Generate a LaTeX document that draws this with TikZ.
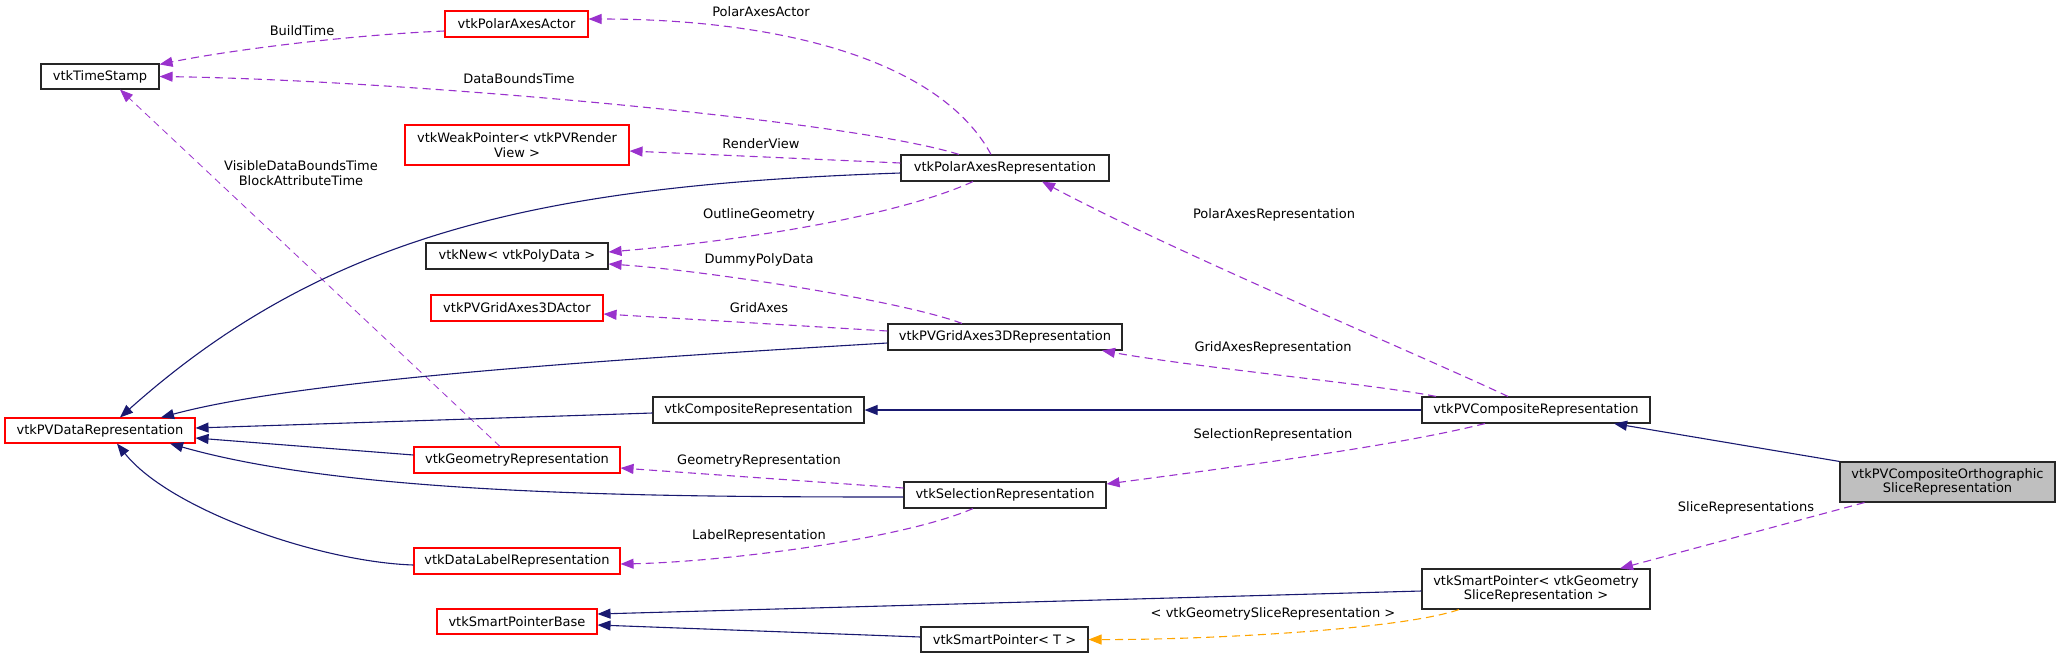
\documentclass[tikz,border=0pt]{standalone}
\usepackage{fontspec}
\setmainfont{DejaVu Sans}
\usetikzlibrary{arrows.meta,calc}
\definecolor{navyc}{HTML}{191970}
\definecolor{purc}{HTML}{9A32CD}
\definecolor{orc}{HTML}{FFA500}
\definecolor{grayfill}{HTML}{BFBFBF}
\begin{document}
\begin{tikzpicture}[x=1pt,y=-1pt,
  cls/.style={draw, line width=1.1pt, inner sep=0pt, align=center, fill=white,
    font=\fontsize{13}{14.5}\selectfont},
  redcls/.style={cls, draw=red},
  blkcls/.style={cls, draw=black!85},
  inh/.style={draw=navyc, line width=1.1pt, -{Triangle[length=13pt,width=10pt]}},
  use/.style={draw=purc, line width=1.1pt, dash pattern=on 8pt off 5pt, -{Triangle[length=13pt,width=10pt]}},
  usethin/.style={draw=purc, line width=0.8pt, dash pattern=on 7pt off 5pt, -{Triangle[length=13pt,width=10pt]}},
  tmpl/.style={draw=orc, line width=1.1pt, dash pattern=on 8pt off 5pt, -{Triangle[length=13pt,width=10pt]}},
  lbl/.style={font=\fontsize{13}{14.5}\selectfont, align=center, inner sep=0pt}
]
\useasboundingbox (0,0) rectangle (2061,659);

% nodes
\node[redcls, minimum width=143pt, minimum height=26pt] (polaractor) at (516.5,24) {vtkPolarAxesActor};
\node[blkcls, minimum width=118pt, minimum height=25pt] (timestamp) at (100,76.5) {vtkTimeStamp};
\node[redcls, minimum width=224pt, minimum height=40pt] (weakptr) at (517,145) {vtkWeakPointer< vtkPVRender\\View >};
\node[blkcls, minimum width=208pt, minimum height=26pt] (polarrep) at (1005,168) {vtkPolarAxesRepresentation};
\node[blkcls, minimum width=182pt, minimum height=26pt] (vtknew) at (517,256) {vtkNew< vtkPolyData >};
\node[redcls, minimum width=172pt, minimum height=26pt] (gridactor) at (517,308) {vtkPVGridAxes3DActor};
\node[blkcls, minimum width=234pt, minimum height=26pt] (gridrep) at (1005,337) {vtkPVGridAxes3DRepresentation};
\node[redcls, minimum width=190pt, minimum height=25pt] (datarep) at (100,430.5) {vtkPVDataRepresentation};
\node[blkcls, minimum width=211pt, minimum height=26pt] (comprep) at (758.5,410) {vtkCompositeRepresentation};
\node[blkcls, minimum width=228pt, minimum height=26pt] (pvcomprep) at (1536,410) {vtkPVCompositeRepresentation};
\node[redcls, minimum width=206pt, minimum height=26pt] (georep) at (517,460) {vtkGeometryRepresentation};
\node[blkcls, minimum width=202pt, minimum height=26pt] (selrep) at (1005,495) {vtkSelectionRepresentation};
\node[blkcls, fill=grayfill, minimum width=215pt, minimum height=40pt] (ortho) at (1947.5,482) {vtkPVCompositeOrthographic\\SliceRepresentation};
\node[redcls, minimum width=206pt, minimum height=26pt] (labelrep) at (517,561) {vtkDataLabelRepresentation};
\node[blkcls, minimum width=228pt, minimum height=40pt] (smartgeo) at (1536,589) {vtkSmartPointer< vtkGeometry\\SliceRepresentation >};
\node[redcls, minimum width=160pt, minimum height=25pt] (smartbase) at (517,621.5) {vtkSmartPointerBase};
\node[blkcls, minimum width=167pt, minimum height=25pt] (smartT) at (1004.5,639.5) {vtkSmartPointer< T >};

% usage edges
\draw[use] ($(polaractor.west)+(0,7)$) .. controls (350,35) and (230,50) .. ($(timestamp.north east)+(0,1)$);
\draw[use] ($(polarrep.north)+(-46,0)$) .. controls (850,120) and (400,80) .. (timestamp.east);
\draw[use] ($(polarrep.north)+(-14,0)$) .. controls (940,60) and (780,19) .. ($(polaractor.east)+(0,-5)$);
\draw[use] ($(polarrep.west)+(0,-5)$) -- ($(weakptr.east)+(0,6)$);
\draw[use] ($(polarrep.south)+(-32,0)$) .. controls (900,215) and (750,240) .. ($(vtknew.east)+(0,-4)$);
\draw[use] ($(gridrep.north)+(-43,0)$) .. controls (900,300) and (700,270) .. ($(vtknew.east)+(0,8)$);
\draw[use] ($(gridrep.west)+(0,-6)$) -- ($(gridactor.east)+(0,6)$);
\draw[use] ($(pvcomprep.north)+(-28,0)$) .. controls (1420,355) and (1170,250) .. ($(polarrep.south)+(37,0)$);
\draw[use] ($(pvcomprep.north)+(-100,0)$) .. controls (1380,385) and (1200,368) .. ($(gridrep.south)+(97,0)$);
\draw[use] ($(pvcomprep.south)+(-51,0)$) .. controls (1400,445) and (1250,465) .. ($(selrep.east)+(0,-11)$);
\draw[usethin] ($(georep.north)+(-17,0)$) -- ($(timestamp.south)+(20,0)$);
\draw[use] ($(selrep.west)+(0,-7)$) -- ($(georep.east)+(0,8)$);
\draw[use] ($(selrep.south)+(-32,0)$) .. controls (900,540) and (720,562) .. ($(labelrep.east)+(0,3)$);
\draw[use] ($(ortho.south west)+(25,0)$) -- ($(smartgeo.north)+(84,0)$);
\draw[tmpl] ($(smartgeo.south)+(-77,0)$) .. controls (1400,630) and (1200,640) .. (smartT.east);

% inheritance edges
\draw[inh] ($(polarrep.west)+(0,5)$) .. controls (550,185) and (330,230) .. ($(datarep.north)+(20,0)$);
\draw[inh] ($(gridrep.west)+(0,6)$) .. controls (600,360) and (300,380) .. ($(datarep.north)+(61,0)$);
\draw[inh] ($(comprep.west)+(0,3)$) -- ($(datarep.east)+(0,-2.5)$);
\draw[inh] (pvcomprep.west) -- (comprep.east);
\draw[inh] ($(georep.west)+(0,-5)$) -- ($(datarep.east)+(0,7.5)$);
\draw[inh] ($(selrep.west)+(0,2)$) .. controls (650,497) and (350,495) .. ($(datarep.south)+(70,0)$);
\draw[inh] ($(labelrep.west)+(0,4)$) .. controls (320,562) and (170,510) .. ($(datarep.south)+(17,0)$);
\draw[inh] (ortho.north west) -- ($(pvcomprep.south)+(78,0)$);
\draw[inh] ($(smartgeo.west)+(0,2)$) -- ($(smartbase.east)+(0,-7.5)$);
\draw[inh] ($(smartT.west)+(0,-2.5)$) -- ($(smartbase.east)+(0,3.5)$);

% labels
\node[lbl] (lBuild) at (302,31) {BuildTime};
\node[lbl] (lDBT) at (519,79) {DataBoundsTime};
\node[lbl] (lPAA) at (761,12) {PolarAxesActor};
\node[lbl] (lRV) at (761,144) {RenderView};
\node[lbl] (lVis) at (301,173) {VisibleDataBoundsTime\\BlockAttributeTime};
\node[lbl] (lOG) at (759,215) {OutlineGeometry};
\node[lbl] (lDPD) at (759,260) {DummyPolyData};
\node[lbl] (lGA) at (759,308) {GridAxes};
\node[lbl] (lPAR) at (1274,215) {PolarAxesRepresentation};
\node[lbl] (lGAR) at (1273,348) {GridAxesRepresentation};
\node[lbl] (lSR) at (1273,435) {SelectionRepresentation};
\node[lbl] (lGR) at (759,461) {GeometryRepresentation};
\node[lbl] (lLR) at (759,536) {LabelRepresentation};
\node[lbl] (lSlR) at (1746,508) {SliceRepresentations};
\node[lbl] (lVG) at (1273,614) {< vtkGeometrySliceRepresentation >};
\end{tikzpicture}
\end{document}
